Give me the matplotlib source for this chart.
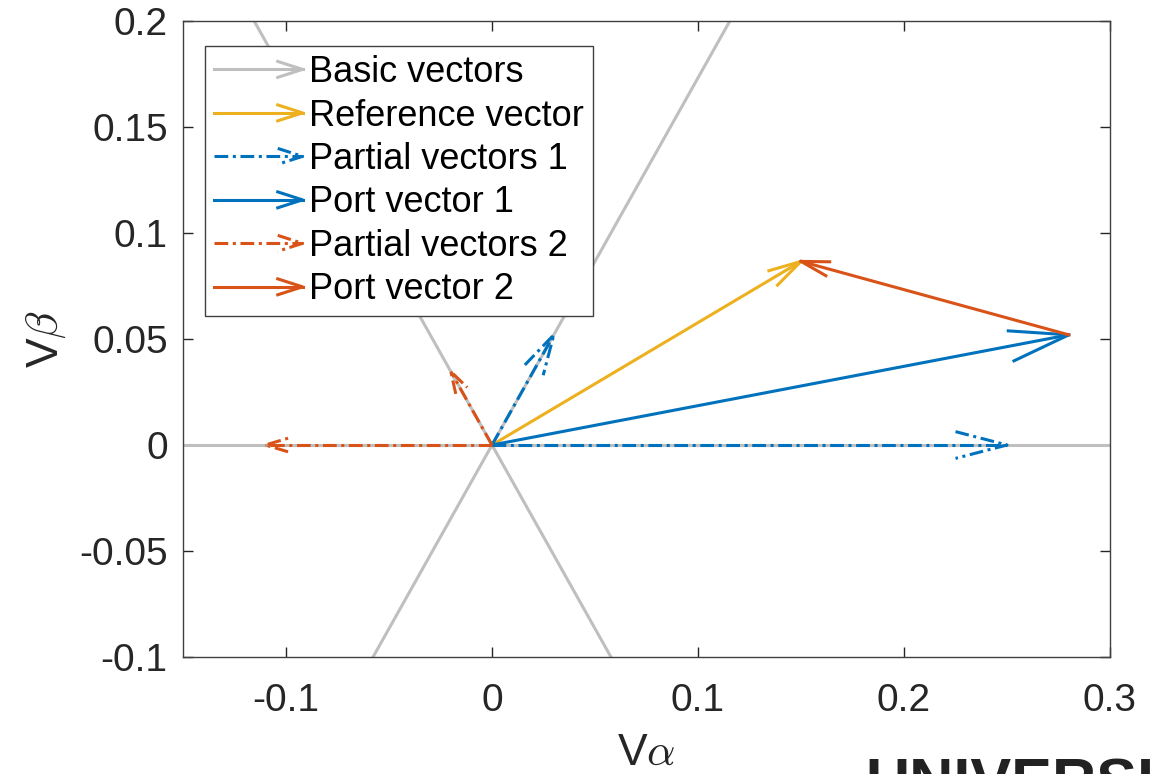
import numpy as np
import matplotlib
matplotlib.use('Agg')
import matplotlib.pyplot as plt
from matplotlib.lines import Line2D
from matplotlib.legend_handler import HandlerBase

# =========================
# DATA
# =========================
basic_ang = [0, 60, 120, 180, 240, 300]   # deg
basic_mag = 0.4

ref_vec = [0.15, 0.0866]

partial1_mag = [0.25, 0.06]
partial1_ang = [0, 60]

partial2_mag = [0.11, 0.04]
partial2_ang = [180, 120]

labels = ['Basic vectors', 'Reference vector', 'Partial vectors 1',
          'Port vector 1', 'Partial vectors 2', 'Port vector 2']

xticks = [-0.1, 0, 0.1, 0.2, 0.3]
yticks = [-0.1, -0.05, 0, 0.05, 0.1, 0.15, 0.2]

# colores MATLAB
c_gray = '#bfbfbf'
c_yel = '#EDB120'
c_blue = '#0072BD'
c_ora = '#D95319'
dashdot = (0, (4.5, 1.5, 1, 1.5))
LW = 2.2

# tamaño de punta (fraccion de la longitud), como en el quiver original
head1 = [0.1, 0.32]
head2 = [0.1, 0.26]

plt.rcParams['font.family'] = ['Liberation Sans', 'DejaVu Sans']
plt.rcParams['mathtext.fontset'] = 'cm'

fig = plt.figure(figsize=(11.63, 7.74), dpi=100)
ax = fig.add_axes([183/1163, 1 - 657/774, 927/1163, 636/774])
ax.set_xlim(-0.15, 0.3)
ax.set_ylim(-0.1, 0.2)


def draw_vec(x0, y0, dx, dy, color, ls, frac=0.1, spread=0.26):
    T = ax.transData
    p0 = T.transform((x0, y0))
    p1 = T.transform((x0 + dx, y0 + dy))
    d = p1 - p0
    L = np.hypot(*d)
    u = d / L
    n = np.array([-u[1], u[0]])
    h = frac * L
    a = p1 - h*u + spread*h*n
    b = p1 - h*u - spread*h*n
    inv = T.inverted()
    a = inv.transform(a)
    b = inv.transform(b)
    tip = (x0 + dx, y0 + dy)
    ax.plot([x0, tip[0]], [y0, tip[1]], color=color, ls=ls, lw=LW)
    ax.plot([a[0], tip[0], b[0]], [a[1], tip[1], b[1]], color=color, ls=ls, lw=LW)


def polar(mag, ang):
    return mag*np.cos(np.radians(ang)), mag*np.sin(np.radians(ang))


# basic vectors
for ang in basic_ang:
    dx, dy = polar(basic_mag, ang)
    draw_vec(0, 0, dx, dy, c_gray, '-')

# reference
draw_vec(0, 0, ref_vec[0], ref_vec[1], c_yel, '-', frac=0.09)

# port 1
p1 = np.zeros(2)
for mag, ang, hf in zip(partial1_mag, partial1_ang, head1):
    dx, dy = polar(mag, ang)
    draw_vec(0, 0, dx, dy, c_blue, dashdot, frac=hf)
    p1 += (dx, dy)
draw_vec(0, 0, p1[0], p1[1], c_blue, '-')

# port 2
p2 = np.zeros(2)
for mag, ang, hf in zip(partial2_mag, partial2_ang, head2):
    dx, dy = polar(mag, ang)
    draw_vec(0, 0, dx, dy, c_ora, dashdot, frac=hf, spread=0.3)
    p2 += (dx, dy)
draw_vec(p1[0], p1[1], p2[0], p2[1], c_ora, '-')

# =========================
# EJES
# =========================
ax.set_xticks(xticks)
ax.set_xticklabels(['-0.1', '0', '0.1', '0.2', '0.3'])
ax.set_yticks(yticks)
ax.set_yticklabels(['-0.1', '-0.05', '0', '0.05', '0.1', '0.15', '0.2'])
ax.tick_params(direction='in', length=7, width=1, colors='#262626',
               labelsize=28, top=True, right=True)
ax.tick_params(axis='x', pad=19)
ax.tick_params(axis='y', pad=11)
for s in ax.spines.values():
    s.set_color('#404040')
    s.set_linewidth(1)

ax.set_xlabel(r'V$\alpha$', fontsize=32, color='#262626', labelpad=10)
ax.set_ylabel(r'V$\beta$', fontsize=32, color='#262626', labelpad=8)


# =========================
# LEYENDA
# =========================
class ArrowHandler(HandlerBase):
    def create_artists(self, legend, orig, xd, yd, w, h, fs, trans):
        y = h/2 - yd
        x0 = -xd
        x1 = w - xd
        hl = 0.28*w
        hw = 0.09*w
        shaft = Line2D([x0, x1], [y, y])
        shaft.update_from(orig)
        head = Line2D([x1 - hl, x1, x1 - hl], [y + hw, y, y - hw])
        head.update_from(orig)
        shaft.set_transform(trans)
        head.set_transform(trans)
        return [shaft, head]


styles = [(c_gray, '-'), (c_yel, '-'), (c_blue, dashdot),
          (c_blue, '-'), (c_ora, dashdot), (c_ora, '-')]
handles = [Line2D([], [], color=c, ls=l, lw=LW) for c, l in styles]

leg = ax.legend(handles, labels, handler_map={Line2D: ArrowHandler()},
                loc='upper left', bbox_to_anchor=(22/927, 1 - 25/636),
                borderaxespad=0, fontsize=26, handlelength=2.45,
                handletextpad=0.17, labelspacing=0.235, borderpad=0.25,
                fancybox=False, framealpha=1, edgecolor='#404040')
leg.get_frame().set_linewidth(1)
for t in leg.get_texts():
    t.set_color('black')

# logo cortado abajo
fig.text(865/1163, 1 - 757/774, 'UNIVERSI', fontsize=44, fontweight='bold',
         color='#222222', va='top', ha='left')

fig.savefig('out.png', dpi=100)
